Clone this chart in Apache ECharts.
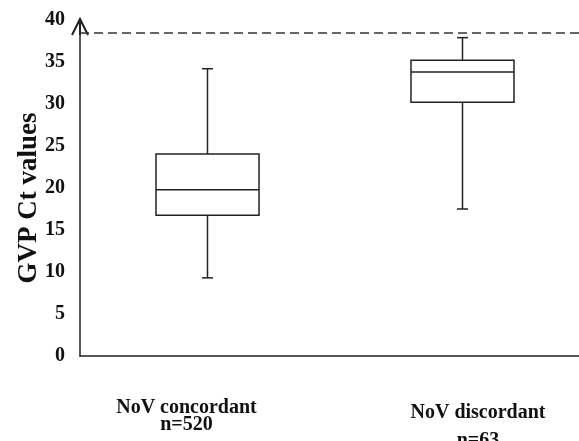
<!DOCTYPE html>
<html>
<head>
<meta charset="utf-8">
<script src="https://cdn.jsdelivr.net/npm/echarts@6/dist/echarts.min.js"></script>
<style>
  html, body { margin: 0; padding: 0; background: #fff; }
  #chart { width: 579px; height: 441px; }
</style>
</head>
<body>
<div id="chart"></div>
<script>
// ---- data ----
const categoryNames = ['NoV concordant', 'NoV discordant'];
const categoryCounts = ['n=520', 'n=63'];
const whiskerLow  = [9.3, 17.5];
const quartile1   = [16.75, 30.2];
const medians     = [19.8, 33.8];
const quartile3   = [24.05, 35.2];
const whiskerHigh = [34.2, 37.9];
const cutoffValue = 38.5;
const yTicks = [0, 5, 10, 15, 20, 25, 30, 35, 40];

const FONT = '"Liberation Serif", "Times New Roman", serif';
const INK = '#222';

const boxData = categoryNames.map((c, i) => [i, whiskerLow[i], quartile1[i], medians[i], quartile3[i], whiskerHigh[i]]);

const chart = echarts.init(document.getElementById('chart'), null, { renderer: 'canvas' });

const labelBase = { fontFamily: FONT, fontWeight: 'bold', fontSize: 20, color: '#111', lineHeight: 17 };

chart.setOption({
  animation: false,
  backgroundColor: '#fff',
  grid: { left: 80, top: 20, width: 510, height: 336, containLabel: false, outerBoundsMode: 'none' },
  xAxis: {
    type: 'category',
    data: categoryNames,
    boundaryGap: true,
    axisLine: { show: true, lineStyle: { color: INK, width: 1.5 } },
    axisTick: { show: false },
    splitLine: { show: false },
    axisLabel: {
      interval: 0,
      hideOverlap: false,
      margin: 43,
      fontFamily: FONT,
      fontWeight: 'bold',
      fontSize: 20,
      color: '#111',
      lineHeight: 17,
      formatter: function (value, index) {
        if (index === 0) return '{a|' + categoryNames[0] + '}\n{a|' + categoryCounts[0] + '}';
        return '{b1|' + categoryNames[1] + '}\n{b2|' + categoryCounts[1] + '}';
      },
      rich: {
        a:  Object.assign({}, labelBase, { padding: [0, 42, 0, 0] }),
        b1: Object.assign({}, labelBase, { lineHeight: 27, padding: [0, 0, 0, 31] }),
        b2: Object.assign({}, labelBase, { lineHeight: 29, padding: [0, 0, 0, 31] })
      }
    }
  },
  yAxis: {
    type: 'value',
    min: yTicks[0],
    max: yTicks[yTicks.length - 1],
    interval: 5,
    name: 'GVP Ct values',
    nameLocation: 'middle',
    nameRotate: 90,
    nameGap: 37,
    nameMoveOverlap: false,
    nameTextStyle: { fontFamily: FONT, fontWeight: 'bold', fontSize: 27, color: '#111', padding: [0, 20, 0, 0] },
    axisLine: {
      show: true,
      lineStyle: { color: INK, width: 1.5 },
      symbol: ['none', 'emptypath://M0,10L5,0L10,10M5,0L5,10'],
      symbolSize: [18, 16],
      symbolOffset: [0, -7]
    },
    axisTick: { show: false },
    splitLine: { show: false },
    axisLabel: {
      margin: 15,
      fontFamily: FONT,
      fontWeight: 'bold',
      fontSize: 20,
      color: '#111'
    }
  },
  series: [
    {
      type: 'custom',
      data: boxData,
      encode: { x: 0, y: [1, 2, 3, 4, 5] },
      z: 3,
      renderItem: function (params, api) {
        const i = api.value(0);
        const lo = api.coord([i, api.value(1)]);
        const q1 = api.coord([i, api.value(2)]);
        const md = api.coord([i, api.value(3)]);
        const q3 = api.coord([i, api.value(4)]);
        const hi = api.coord([i, api.value(5)]);
        const band = api.size([1, 0])[0];
        const half = band * 0.202;
        const cap = 5.5;
        const x = lo[0];
        const st = { stroke: INK, lineWidth: 1.5, fill: null };
        return {
          type: 'group',
          children: [
            { type: 'line', shape: { x1: x, y1: hi[1], x2: x, y2: q3[1] }, style: st },
            { type: 'line', shape: { x1: x, y1: q1[1], x2: x, y2: lo[1] }, style: st },
            { type: 'line', shape: { x1: x - cap, y1: hi[1], x2: x + cap, y2: hi[1] }, style: st },
            { type: 'line', shape: { x1: x - cap, y1: lo[1], x2: x + cap, y2: lo[1] }, style: st },
            { type: 'rect', shape: { x: x - half, y: q3[1], width: 2 * half, height: q1[1] - q3[1] },
              style: { stroke: INK, lineWidth: 1.5, fill: '#fff' } },
            { type: 'line', shape: { x1: x - half, y1: md[1], x2: x + half, y2: md[1] }, style: st }
          ]
        };
      }
    },
    {
      type: 'line',
      data: [],
      silent: true,
      markLine: {
        silent: true,
        symbol: 'none',
        label: { show: false },
        lineStyle: { color: '#333', width: 1.5, type: [9, 5] },
        data: [{ yAxis: cutoffValue }]
      }
    }
  ]
});
</script>
</body>
</html>
